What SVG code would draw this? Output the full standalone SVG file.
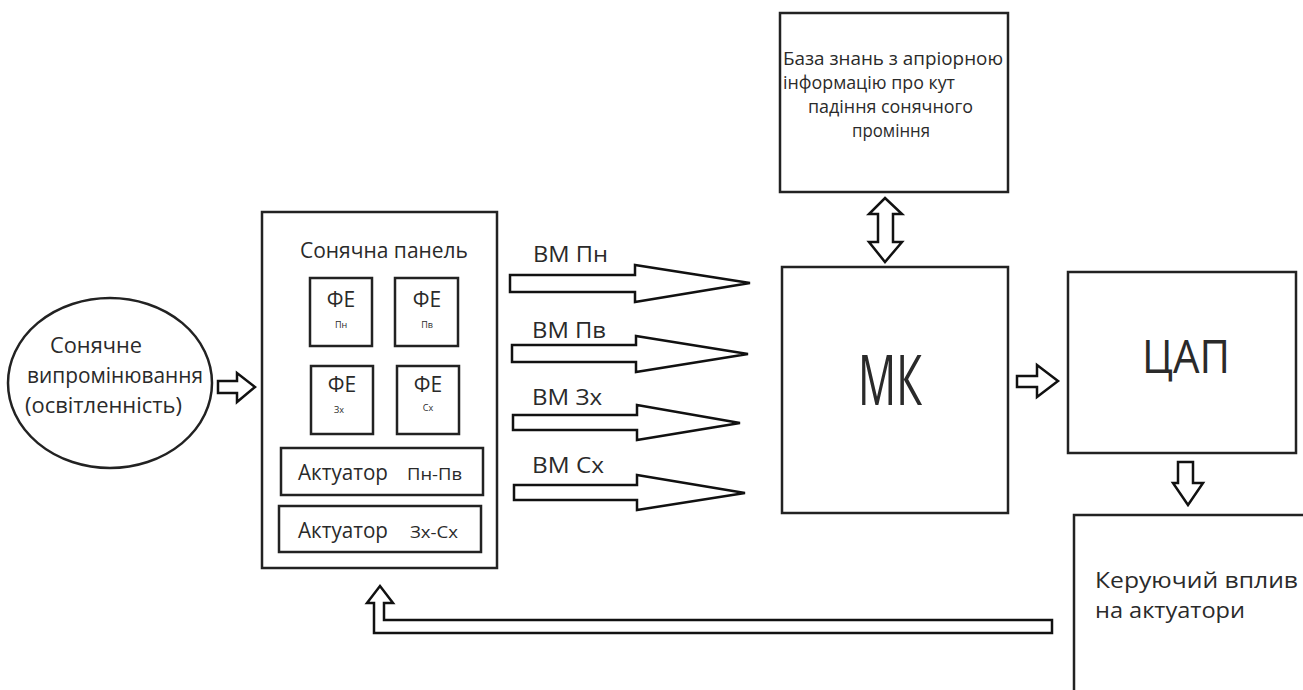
<svg xmlns="http://www.w3.org/2000/svg" width="1303" height="690" viewBox="0 0 1303 690">
<style>
.box{fill:#fff;stroke:#222;stroke-width:2.5}
.arr{fill:#fff;stroke:#111;stroke-width:2.5;stroke-linejoin:miter}
text{font-family:"Open Sans","Noto Sans",sans-serif;fill:#2a2a2a}
.t22{font-size:21px}
.t18{font-size:17px}
.kb{font-size:19px}
.sub{font-size:9px}
</style>
<rect width="1303" height="690" fill="#fff"/>
<g id="source">
<ellipse cx="110" cy="383" rx="102" ry="85" class="box"/>
<text class="t22" x="50" y="353" textLength="92" lengthAdjust="spacingAndGlyphs">Сонячне</text>
<text class="t22" x="27" y="383" textLength="176" lengthAdjust="spacingAndGlyphs">випромінювання</text>
<text class="t22" x="25" y="413" textLength="157" lengthAdjust="spacingAndGlyphs">(освітленність)</text>
</g>
<g id="panel">
<rect x="262" y="212" width="235" height="356" class="box"/>
<text class="t22" x="300" y="258" textLength="168" lengthAdjust="spacingAndGlyphs">Сонячна панель</text>
</g>
<g id="fe-pn">
<rect x="310" y="278" width="62" height="68" class="box"/>
<text class="t22" x="341" y="307" text-anchor="middle">ФЕ</text>
<text class="sub" x="341" y="328" text-anchor="middle">Пн</text>
</g>
<g id="fe-pv">
<rect x="395" y="278" width="63" height="68" class="box"/>
<text class="t22" x="427" y="307" text-anchor="middle">ФЕ</text>
<text class="sub" x="427" y="328" text-anchor="middle">Пв</text>
</g>
<g id="fe-zx">
<rect x="311" y="366" width="62" height="68" class="box"/>
<text class="t22" x="342" y="392" text-anchor="middle">ФЕ</text>
<text class="sub" x="339" y="413" text-anchor="middle">Зх</text>
</g>
<g id="fe-sx">
<rect x="397" y="366" width="62" height="68" class="box"/>
<text class="t22" x="428" y="392" text-anchor="middle">ФЕ</text>
<text class="sub" x="428" y="411" text-anchor="middle">Сх</text>
</g>
<g id="act1">
<rect x="281" y="448" width="202" height="47" class="box"/>
<text class="t22" x="298" y="480" textLength="90" lengthAdjust="spacingAndGlyphs">Актуатор</text>
<text class="t18" x="407" y="480" textLength="55" lengthAdjust="spacingAndGlyphs">Пн-Пв</text>
</g>
<g id="act2">
<rect x="279" y="506" width="202" height="46" class="box"/>
<text class="t22" x="298" y="538" textLength="90" lengthAdjust="spacingAndGlyphs">Актуатор</text>
<text class="t18" x="410" y="538" textLength="48" lengthAdjust="spacingAndGlyphs">Зх-Сх</text>
</g>
<g id="kb">
<rect x="780" y="13" width="228" height="179" class="box"/>
<text class="kb" x="783" y="65" textLength="220" lengthAdjust="spacingAndGlyphs">База знань з апріорною</text>
<text class="kb" x="783" y="89" textLength="172" lengthAdjust="spacingAndGlyphs">інформацію про кут</text>
<text class="kb" x="808" y="113" textLength="165" lengthAdjust="spacingAndGlyphs">падіння сонячного</text>
<text class="kb" x="852" y="137" textLength="78" lengthAdjust="spacingAndGlyphs">проміння</text>
</g>
<g id="mk">
<rect x="782" y="267" width="226" height="246" class="box"/>
<text x="858" y="405" font-size="70" textLength="64" lengthAdjust="spacingAndGlyphs">МК</text>
</g>
<g id="dac">
<rect x="1068" y="272" width="228" height="181" class="box"/>
<text x="1142" y="373" font-size="45" textLength="88" lengthAdjust="spacingAndGlyphs">ЦАП</text>
</g>
<g id="ctrl">
<rect x="1074" y="515" width="240" height="190" class="box"/>
<text class="t22" x="1095" y="588" textLength="203" lengthAdjust="spacingAndGlyphs">Керуючий вплив</text>
<text class="t22" x="1095" y="618" textLength="150" lengthAdjust="spacingAndGlyphs">на актуатори</text>
</g>
<g id="connectors">
<path class="arr" d="M218,381 H237 V373 L255,387 L237,402 V393 H218 Z"/>
<path class="arr" d="M510,275 H635 V265 L750,283 L635,302 V292 H510 Z"/>
<path class="arr" d="M512,345 H636 V336 L748,354 L636,372 V362 H512 Z"/>
<path class="arr" d="M513,415 H637 V405 L740,423 L637,440 V430 H513 Z"/>
<path class="arr" d="M514,485 H637 V475 L745,493 L637,510 V500 H514 Z"/>
<text class="t22" x="533" y="262" textLength="75" lengthAdjust="spacingAndGlyphs">ВМ Пн</text>
<text class="t22" x="532" y="338" textLength="74" lengthAdjust="spacingAndGlyphs">ВМ Пв</text>
<text class="t22" x="532" y="405" textLength="70" lengthAdjust="spacingAndGlyphs">ВМ Зх</text>
<text class="t22" x="532" y="473" textLength="72" lengthAdjust="spacingAndGlyphs">ВМ Сх</text>
<path class="arr" d="M885,198 L902,214 H893 V242 H902 L885,262 L869,242 H878 V214 H869 Z"/>
<path class="arr" d="M1017,376 H1037 V365 L1058,381 L1037,397 V387 H1017 Z"/>
<path class="arr" d="M1178,462 H1193 V483 H1203 L1188,505 L1173,483 H1178 Z"/>
<path class="arr" d="M1052,620 V633 H374 V603 H367 L380,586 L393,603 H384 V620 Z"/>
</g>
</svg>
